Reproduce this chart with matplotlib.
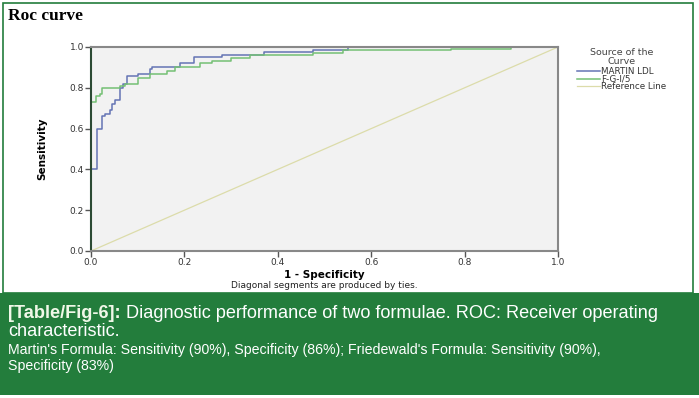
import matplotlib
matplotlib.use("Agg")
import matplotlib.pyplot as plt
from matplotlib.patches import Rectangle

# ROC vertices (steps-post order)
martin_fpr = [0, 0, 0.013, 0.024, 0.030, 0.040, 0.045, 0.052, 0.062, 0.068, 0.077,
              0.100, 0.126, 0.130, 0.190, 0.220, 0.280, 0.370, 0.475, 0.550, 1.0]
martin_tpr = [0, 0.40, 0.60, 0.66, 0.67, 0.69, 0.72, 0.74, 0.80, 0.82, 0.86,
              0.87, 0.89, 0.90, 0.92, 0.95, 0.96, 0.975, 0.985, 1.0, 1.0]

fg_fpr = [0, 0, 0.011, 0.020, 0.024, 0.062, 0.073, 0.100, 0.126, 0.163, 0.180,
          0.233, 0.260, 0.300, 0.340, 0.475, 0.540, 0.770, 0.900, 1.0]
fg_tpr = [0, 0.73, 0.76, 0.77, 0.80, 0.81, 0.82, 0.85, 0.87, 0.88, 0.90,
          0.92, 0.93, 0.946, 0.96, 0.97, 0.985, 0.99, 1.0, 1.0]

ref_x = [0, 1]
ref_y = [0, 1]

series_names = ["MARTIN LDL", "F-G-I/5", "Reference Line"]
ticks = [0.0, 0.2, 0.4, 0.6, 0.8, 1.0]

green = "#237d3c"
W, H = 699, 398

fig = plt.figure(figsize=(W / 100, H / 100), dpi=100)

# frame around the chart and the caption band
fig.patches.append(Rectangle((3 / W, 1 - 293 / H), 690 / W, 290 / H, transform=fig.transFigure,
                             fill=False, edgecolor=green, linewidth=1.2))
fig.patches.append(Rectangle((0, 1 - 395 / H), 1, 102 / H, transform=fig.transFigure,
                             facecolor=green, edgecolor="none"))

fig.text(8 / W, 1 - 16 / H, "Roc curve", family="Liberation Serif", weight="bold",
         fontsize=12.5, va="center", ha="left")

ax = fig.add_axes([91 / W, 1 - 251 / H, 467 / W, 204 / H])
ax.set_facecolor("#f2f2f2")
l1, = ax.plot(martin_fpr, martin_tpr, drawstyle="steps-post", color="#6474b4", lw=1.1)
l2, = ax.plot(fg_fpr, fg_tpr, drawstyle="steps-post", color="#74c074", lw=1.1)
l3, = ax.plot(ref_x, ref_y, color="#dcdcaa", lw=0.9)
ax.set_xlim(0, 1)
ax.set_ylim(0, 1)
ax.set_xticks(ticks)
ax.set_yticks(ticks)
ax.set_xticklabels(["%.1f" % t for t in ticks])
ax.set_yticklabels(["%.1f" % t for t in ticks])
ax.tick_params(length=4, width=1, color="#555555", labelsize=6.5, labelcolor="#333333", pad=1)
for s in ax.spines.values():
    s.set_color("#888888")
    s.set_linewidth(1.5)
ax.spines["left"].set_color("#2c4a34")

ax.set_xlabel("1 - Specificity", fontsize=7.5, weight="bold", labelpad=2)
ax.set_ylabel("Sensitivity", fontsize=7.5, weight="bold", labelpad=16)
fig.text(324 / W, 1 - 286 / H, "Diagonal segments are produced by ties.", fontsize=6.5,
         ha="center", va="center", color="#222222")

leg = fig.legend([l1, l2, l3], series_names, title="Source of the\nCurve",
                 loc="upper left", bbox_to_anchor=(577 / W, 1 - 48 / H), frameon=False,
                 fontsize=6.3, title_fontsize=6.8, handlelength=2.6, handletextpad=0.15,
                 labelspacing=-0.15, borderpad=0, borderaxespad=0)
leg.get_title().set_color("#444444")
leg.get_title().set_multialignment("center")
leg.get_title().set_linespacing(0.95)
leg._legend_box.align = "center"
leg._legend_box.sep = 1
for t in leg.get_texts():
    t.set_color("#333333")

# caption
cap_font = "Liberation Sans"
lab = fig.text(8 / W, 1 - 313 / H, "[Table/Fig-6]:", color="#f0f8e8", weight="bold",
               fontsize=13.1, family=cap_font, va="center", ha="left")
fig.canvas.draw()
bb = lab.get_window_extent()
fig.text((bb.x1 + 5) / W, 1 - 313 / H,
         "Diagnostic performance of two formulae. ROC: Receiver operating",
         color="white", fontsize=13.1, family=cap_font, va="center", ha="left")
fig.text(8 / W, 1 - 332 / H, "characteristic.", color="white", fontsize=13.1,
         family=cap_font, va="center", ha="left")
fig.text(8 / W, 1 - 350 / H,
         "Martin's Formula: Sensitivity (90%), Specificity (86%); Friedewald's Formula: Sensitivity (90%),",
         color="white", fontsize=10.2, family=cap_font, va="center", ha="left")
fig.text(8 / W, 1 - 366 / H, "Specificity (83%)", color="white", fontsize=10.2,
         family=cap_font, va="center", ha="left")

fig.savefig("out.png", dpi=100)
